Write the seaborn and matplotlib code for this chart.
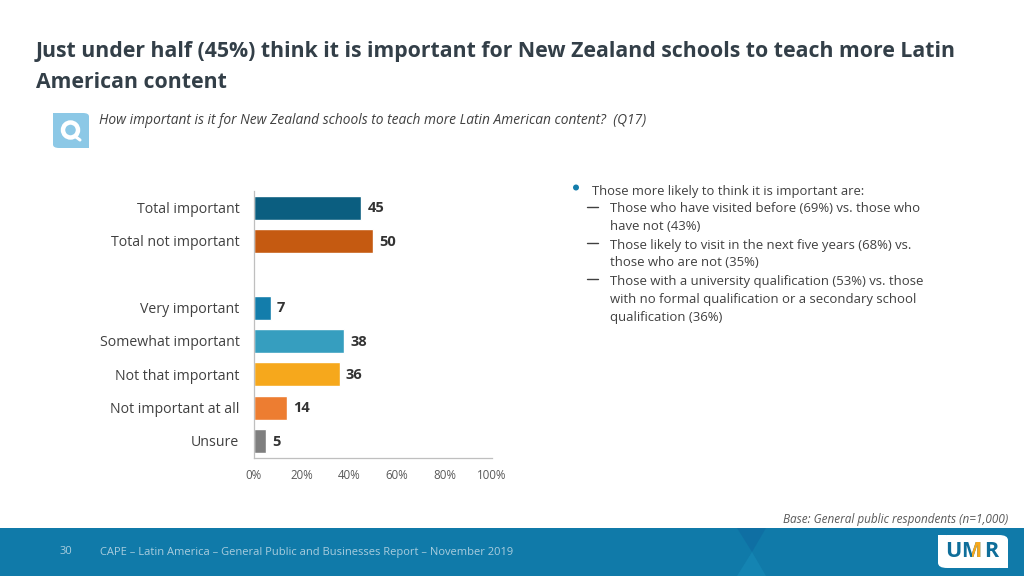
import pandas as pd
import matplotlib.pyplot as plt
import matplotlib.patches as mpatches
import seaborn as sns

# chart values
categories = ["Total important", "Total not important", " ", "Very important",
              "Somewhat important", "Not that important", "Not important at all", "Unsure"]
values = [45, 50, None, 7, 38, 36, 14, 5]
bar_colors = ["#0B5E80", "#C55A11", "#FFFFFF", "#137DAB", "#369EBF", "#F6A81C", "#ED7D31", "#7F7F7F"]
x_ticks = [0, 20, 40, 60, 80, 100]

title_lines = ["Just under half (45%) think it is important for New Zealand schools to teach more Latin",
               "American content"]
question = "How important is it for New Zealand schools to teach more Latin American content?  (Q17)"
bullet_head = "Those more likely to think it is important are:"
sub_bullets = [
    ["Those who have visited before (69%) vs. those who", "have not (43%)"],
    ["Those likely to visit in the next five years (68%) vs.", "those who are not (35%)"],
    ["Those with a university qualification (53%) vs. those",
     "with no formal qualification or a secondary school", "qualification (36%)"],
]
base_note = "Base: General public respondents (n=1,000)"
footer_page = "30"
footer_text = "CAPE \u2013 Latin America \u2013 General Public and Businesses Report \u2013 November 2019"

sns.set_theme(style="white")
plt.rcParams['font.family'] = ['Open Sans', 'DejaVu Sans']

W, H = 1024, 576
fig = plt.figure(figsize=(W / 100, H / 100), dpi=100, facecolor="white")

# helper: pixel coords to figure coords
def px(x, y):
    return x / W, 1 - y / H

def put(x, y, s, **kw):
    fx, fy = px(x, y)
    kw.setdefault("va", "center")
    return fig.text(fx, fy, s, **kw)

def box(x0, y0, x1, y1, color):
    fig.patches.append(mpatches.Rectangle(px(x0, y1), (x1 - x0) / W, (y1 - y0) / H,
                       transform=fig.transFigure, facecolor=color, edgecolor="none"))

# bar chart
ax = fig.add_axes([254 / W, 1 - 457.5 / H, 238 / W, 266.5 / H])
df = pd.DataFrame({"category": categories, "value": values})
sns.barplot(data=df, y="category", x="value", hue="category", palette=bar_colors,
            legend=False, width=0.72, ax=ax, saturation=1)
ax.set_xlim(0, 100)
ax.set_xlabel("")
ax.set_ylabel("")
ax.set_xticks(x_ticks)
ax.set_xticklabels([f"{t}%" for t in x_ticks], fontsize=8.3, color="#595959")
ax.tick_params(axis="x", length=0, pad=8)
ax.tick_params(axis="y", length=0, pad=10.5, labelsize=10.15, labelcolor="#404040")
sns.despine(ax=ax, top=True, right=True)
for side in ["left", "bottom"]:
    ax.spines[side].set_color("#BFBFBF")
    ax.spines[side].set_linewidth(0.9)

for i, v in enumerate(values):
    if v is not None:
        ax.annotate(str(v), (v, i), xytext=(4.5, -0.5), textcoords="offset points", va="center",
                    fontsize=10.5, fontweight="bold", color="#333333")

# title and question
put(36, 52, title_lines[0], fontsize=15.27, fontweight="bold", color="#333F48")
put(36, 82, title_lines[1], fontsize=15.27, fontweight="bold", color="#333F48")
put(99, 121, question, fontsize=9.9, style="italic", color="#404040")

# Q icon
fig.patches.append(mpatches.FancyBboxPatch((53 / W, 1 - 148 / H), 36 / W, 35 / H,
                   boxstyle="round,pad=0,rounding_size=0.006", transform=fig.transFigure,
                   facecolor="#8CC8E6", edgecolor="none"))
box(53, 113, 62, 122, "#8CC8E6")
box(80, 139, 89, 148, "#8CC8E6")
fig.patches.append(mpatches.Ellipse(px(70.5, 130), 15 / W, 15 / H, transform=fig.transFigure,
                   facecolor="#8CC8E6", edgecolor="white", linewidth=3.2))
fig.add_artist(plt.Line2D([76 / W, 80 / W], [1 - 137 / H, 1 - 140 / H], color="white", linewidth=2.2))

# right hand notes
fig.patches.append(mpatches.Ellipse(px(576, 187.5), 6 / W, 6 / H, transform=fig.transFigure,
                   facecolor="#137DAB", edgecolor="none"))
put(591.5, 191, bullet_head, fontsize=9.35, color="#404040")
y = 209
for lines in sub_bullets:
    fig.add_artist(plt.Line2D([587 / W, 598 / W], [1 - (y - 2) / H] * 2, color="#404040", linewidth=1))
    for line in lines:
        put(610.5, y, line, fontsize=9.45, color="#404040")
        y += 18

# footer band
box(0, 528, W, H, "#107AA9")
fig.patches.append(mpatches.Polygon([px(737, 528), px(766, 528), px(752, 552)], transform=fig.transFigure,
                   facecolor="#0F6FA3", edgecolor="none"))
fig.patches.append(mpatches.Polygon([px(752, 552), px(737, 576), px(766, 576)], transform=fig.transFigure,
                   facecolor="#1484B2", edgecolor="none"))
put(1008, 519, base_note, fontsize=8.45, style="italic", color="#595959", ha="right")
put(60, 552, footer_page, fontsize=8.05, color="#A9CDDE")
put(100.5, 552, footer_text, fontsize=8.05, color="#A9CDDE")

# logo, the M is half blue half orange
fig.patches.append(mpatches.FancyBboxPatch((938 / W, 1 - 568 / H), 70 / W, 33 / H,
                   boxstyle="round,pad=0,rounding_size=0.009", transform=fig.transFigure,
                   facecolor="white", edgecolor="none"))
box(938, 535, 946, 541, "white")
box(1000, 562, 1008, 568, "white")
put(945, 551.5, "U", fontsize=15.5, fontweight="bold", color="#0F6E9A")
put(961, 551.5, "M", fontsize=15.5, fontweight="bold", color="#0F6E9A")
m_right = put(961, 551.5, "M", fontsize=15.5, fontweight="bold", color="#F6A81C")
clip = mpatches.Rectangle(px(972, 570), 14 / W, 36 / H, transform=fig.transFigure)
m_right.set_clip_path(clip)
m_right.set_clip_on(True)
put(984, 551.5, "R", fontsize=15.5, fontweight="bold", color="#0F6E9A")

fig.savefig("out.png", dpi=100)
